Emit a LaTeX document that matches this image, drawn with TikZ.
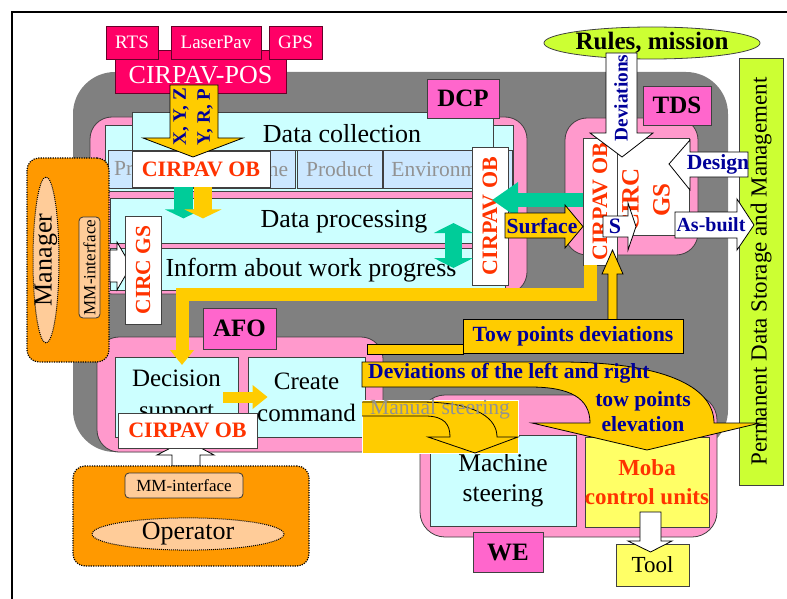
\documentclass[tikz,border=0pt]{standalone}
\usepackage{fontspec}
\setmainfont{Liberation Serif}
\usetikzlibrary{shapes.geometric,arrows.meta}

\definecolor{grayarea}{HTML}{808080}
\definecolor{pinkarea}{HTML}{FF99CC}
\definecolor{tagpink}{HTML}{FF66CC}
\definecolor{posred}{HTML}{FF0066}
\definecolor{palecyan}{HTML}{CCFFFF}
\definecolor{paleblue}{HTML}{CCE8FF}
\definecolor{arrowyellow}{HTML}{FFCC00}
\definecolor{mgrorange}{HTML}{FF9900}
\definecolor{peach}{HTML}{FFCC99}
\definecolor{mobayellow}{HTML}{FFFF66}
\definecolor{limegreen}{HTML}{CCFF33}
\definecolor{obred}{HTML}{FF3300}
\definecolor{textblue}{HTML}{000099}
\definecolor{seagreen}{HTML}{00CC99}
\definecolor{dimtext}{HTML}{929292}

\newcommand{\fsz}[2]{\fontsize{#1}{#2}\selectfont}

\tikzset{
  zone/.style={draw=black!75, line width=0.8, fill=pinkarea, rounded corners=22, inner sep=0},
  tagbox/.style={draw=black!75, line width=0.8, fill=tagpink, inner sep=0, font=\fsz{25}{30}\bfseries},
  cyanbox/.style={draw=black!75, line width=0.8, fill=palecyan, inner sep=0, font=\fsz{26}{30}},
  subbox/.style={draw=black!75, line width=0.8, fill=paleblue, inner sep=0, text=dimtext, font=\fsz{21.5}{25}},
  obbox/.style={draw=black!75, line width=0.8, fill=white, inner sep=0, text=obred, font=\fsz{22}{26}\bfseries},
  posbox/.style={draw=black!60!posred, line width=0.8, fill=posred, inner sep=0, text=white, font=\fsz{19}{22}},
  yblock/.style={draw=black, line width=0.8, fill=arrowyellow},
  wblock/.style={draw=black, line width=0.8, fill=white},
  bluetxt/.style={text=textblue, inner sep=0, font=\fsz{21.6}{25}\bfseries},
  orangebox/.style={draw=black, dash pattern=on 1.2pt off 1.2pt, line width=1.2, fill=mgrorange, rounded corners=12, inner sep=0},
  peachell/.style={ellipse, draw=black, dash pattern=on 1pt off 1pt, line width=1, fill=peach, inner sep=0},
  mmbox/.style={draw=black!80, line width=0.8, fill=peach, rounded corners=4, inner sep=0, font=\fsz{17}{20}},
}

\begin{document}
\begin{tikzpicture}[x=1pt,y=-1pt]
\useasboundingbox (0,0) rectangle (787,599);
\clip (0,0) rectangle (787,599);
\draw[line width=2] (12,12) rectangle (800,620);

% working area and the four subsystems
\node[fill=grayarea, rounded corners=42, minimum width=655, minimum height=380, inner sep=0] (work) at (400.5,262) {};
\node[zone, minimum width=437, minimum height=177] (dcp) at (308.5,205.5) {};
\node[zone, minimum width=133, minimum height=137] (tds) at (631.5,186.5) {};
\node[zone, minimum width=286, minimum height=115] (afo) at (240,394.5) {};
\node[zone, minimum width=297, minimum height=142, rounded corners=25] (we) at (568.5,466) {};

% DCP
\node[cyanbox, minimum width=408, minimum height=66] (dcpanel) at (309,158) {};
\node[cyanbox, minimum width=361, minimum height=38] (collect) at (312.5,131) {};
\node[inner sep=0, font=\fsz{26}{30}] (collecttxt) at (342,134) {Data collection};
\node[subbox, minimum width=82, minimum height=38] (process) at (149,169) {Process\hspace*{4pt}};
\node[subbox, minimum width=105, minimum height=38] (machine) at (242.5,169) {\hspace*{16pt}Machine};
\node[subbox, minimum width=85, minimum height=38] (product) at (339.5,169) {Product};
\node[subbox, minimum width=129, minimum height=38] (environment) at (447.5,169) {Environment};
\node[cyanbox, minimum width=395, minimum height=45] (processing) at (307.5,220.5) {};
\node[inner sep=0, font=\fsz{26}{30}] (processingtxt) at (344,222) {Data processing};
\node[cyanbox, minimum width=395, minimum height=42] (inform) at (307.5,269) {};
\node[inner sep=0, font=\fsz{26}{30}] (informtxt) at (311,270) {Inform about work progress};
\draw[wblock] (110,250) -- (117,250) -- (117,242) -- (131,266) -- (117,290) -- (117,282) -- (110,282) -- cycle;
\node[obbox, rotate=90, minimum width=108, minimum height=36, font=\fsz{21.5}{25}\bfseries] (circgs) at (143,270) {CIRC GS};
\node[obbox, minimum width=138, minimum height=36] (topob) at (201,169) {CIRPAV OB};
\draw[seagreen, line width=18.5, -{Triangle[width=37pt,length=9pt]}] ([xshift=-17.5]topob.south) -- ++(0,31);
\draw[arrowyellow, line width=18, -{Triangle[width=37pt,length=9pt]}] ([xshift=2]topob.south) -- ++(0,31);
\node[obbox, rotate=90, minimum width=138, minimum height=36] (dcpob) at (490,216) {CIRPAV OB};
\draw[seagreen, line width=17, {Triangle[width=39pt,length=10pt]}-{Triangle[width=39pt,length=10pt]}] (453.5,223) -- (453.5,268);
\node[tagbox, minimum width=72, minimum height=39] (dcptag) at (463,98.5) {DCP};

% positioning system
\node[posbox, minimum width=171, minimum height=43] (pos) at (200.5,71.5) {};
\node[text=white, inner sep=0, font=\fsz{26}{30}] (postxt) at (200.5,75) {CIRPAV-POS};
\node[posbox, minimum width=52, minimum height=33] (rts) at (132,42.5) {RTS};
\node[posbox, minimum width=90, minimum height=33] (laserpav) at (216,42.5) {LaserPav};
\node[posbox, minimum width=53, minimum height=33] (gps) at (295.5,42.5) {GPS};
\draw[yblock] (170,85) -- (218,85) -- (218,138) -- (243,138) -- (193,157) -- (143,138) -- (170,138) -- cycle;
\node[bluetxt, rotate=90, font=\fsz{19}{22}\bfseries] (xyz) at (181,117) {X, Y, Z};
\node[bluetxt, rotate=90, font=\fsz{19}{22}\bfseries] (yrp) at (205,117) {Y, R, P};

% TDS
\node[draw=black!75, line width=0.8, fill=limegreen, rotate=90, minimum width=427, minimum height=44, inner sep=0, font=\fsz{23}{27}] (storage) at (761,271.5) {Permanent Data Storage and Management};
\node[draw=black!75, line width=0.8, fill=white, minimum width=74, minimum height=97, inner sep=0] (tdsgs) at (652,186.5) {};
\node[rotate=90, align=center, text=obred, inner sep=0, font=\fsz{25}{31}\bfseries] (tdsgstxt) at (646,200) {CIRC\\GS};
\node[obbox, rotate=90, minimum width=127, minimum height=34] (tdsob) at (600,201.5) {CIRPAV OB};
\node[ellipse, draw=black!75, line width=0.8, fill=limegreen, minimum width=190, minimum height=32, inner sep=0, font=\fsz{25}{30}\bfseries] (rules) at (652,43) {Rules, mission};
\draw[wblock] (606,53) -- (637,53) -- (637,133) -- (653,133) -- (622,157) -- (590,133) -- (606,133) -- cycle;
\node[bluetxt, rotate=90, font=\fsz{19.3}{22}\bfseries] (devtxt) at (621,98) {Deviations};
\draw[wblock] (669,164) -- (690,140) -- (690,152) -- (748,152) -- (748,177) -- (690,177) -- (690,190) -- cycle;
\node[bluetxt] (design) at (718,164) {Design};
\draw[wblock] (675,212) -- (737,212) -- (737,199) -- (754,225) -- (737,250) -- (737,238) -- (675,238) -- cycle;
\node[bluetxt, font=\fsz{20}{24}\bfseries] (asbuilt) at (711,225) {As-built};
\draw[wblock] (603,216) -- (628,216) -- (628,203) -- (636,226.5) -- (628,250) -- (628,237) -- (603,237) -- cycle;
\node[bluetxt, font=\fsz{22}{25}\bfseries] (s) at (615,226) {S};
\draw[seagreen, line width=14, -{Triangle[width=34pt,length=26pt]}] (583,200) -- (492,200);
\draw[yblock] (505,213) -- (565,213) -- (565,205) -- (583,226.5) -- (565,248) -- (565,238) -- (505,238) -- cycle;
\node[bluetxt] (surface) at (542,226) {Surface};
\node[tagbox, minimum width=68, minimum height=39] (tdstag) at (677,105.5) {TDS};

% manager
\node[orangebox, minimum width=82, minimum height=204] (manager) at (68,260) {};
\node[peachell, minimum width=26, minimum height=166] (mgrell) at (46,260) {};
\node[rotate=90, inner sep=0, font=\fsz{26}{30}] (mgrtxt) at (46,260) {Manager};
\node[mmbox, rotate=90, minimum width=101, minimum height=21] (mgrmm) at (89.5,267.5) {MM-interface};

% AFO and operator
\node[cyanbox, minimum width=123, minimum height=80, align=center, font=\fsz{25}{32}] (decision) at (176.5,397) {Decision\\support};
\node[cyanbox, minimum width=117, minimum height=80, align=center, font=\fsz{25}{32}] (create) at (306.5,397) {Create\\command};
\draw[arrowyellow, line width=11, -{Triangle[width=23pt,length=15pt]}] ([xshift=-15]decision.east) -- ([xshift=20]create.west);
\node[tagbox, minimum width=73, minimum height=41] (afotag) at (239.5,328.5) {AFO};
\draw[wblock] (172,466) -- (172,455) -- (157,455) -- (186,440) -- (214,455) -- (200,455) -- (200,466) -- cycle;
\node[obbox, minimum width=139, minimum height=35] (afoob) at (187.5,430.5) {CIRPAV OB};
\node[orangebox, minimum width=236, minimum height=100] (operator) at (191,516) {};
\node[mmbox, minimum width=118, minimum height=25] (opmm) at (184,485.5) {MM-interface};
\node[peachell, minimum width=192, minimum height=32, font=\fsz{26}{30}] (opell) at (188,534) {Operator};

% WE
\node[cyanbox, minimum width=146, minimum height=91, align=center, font=\fsz{25.5}{30}] (steering) at (503,480.5) {Machine\\steering};
\node[draw=black!75, line width=0.8, fill=mobayellow, minimum width=122, minimum height=90, inner sep=0, align=center, text=obred, font=\fsz{23}{29}\bfseries] (moba) at (647,482) {Moba\\control units};
\node[tagbox, minimum width=70, minimum height=40] (wetag) at (508,552) {WE};
\node[draw=black!75, line width=0.8, fill=mobayellow, minimum width=73, minimum height=42, inner sep=0, font=\fsz{23}{27}] (tool) at (652.5,565) {Tool};
\draw[wblock] (640,512) -- (661,512) -- (661,541) -- (672,541) -- (650.5,552) -- (628,541) -- (640,541) -- cycle;

% commands back to the work
\draw[arrowyellow, line width=13, -{Triangle[width=23pt,length=15pt]}] (590,265) |- (182,294) -- (182,365);
\draw[yblock] (608,319) -- (608,274) -- (602,274) -- (612.5,250) -- (623,274) -- (617,274) -- (617,319);
\filldraw[yblock] (367,344) rectangle (463,354);
\node[draw=black, line width=0.8, fill=arrowyellow, minimum width=220, minimum height=34, inner sep=0, text=textblue, font=\fsz{21.7}{25}\bfseries] (towdev) at (573,336) {Tow points deviations};
\draw[yblock] (362,362) -- (560,362) .. controls (660,362) and (714,385) .. (714,423) -- (760,423) -- (647,450) -- (532,423) -- (590,423) .. controls (590,398) and (570,387) .. (530,387) -- (362,387) -- cycle;
\node[bluetxt, anchor=west] (devlr) at (368,373) {Deviations of the left and right};
\node[bluetxt, align=center] (towelev) at (643,412) {tow points\\elevation};
\node[fill=arrowyellow, draw=white, line width=0.8, minimum width=156, minimum height=53, inner sep=0] (manual) at (440,426.5) {};
\draw[yblock] (362,402) -- (420,402) .. controls (480,402) and (497,420) .. (497,437) -- (518,437) -- (475,453) -- (428,437) -- (450,437) .. controls (450,425) and (445,416) .. (425,416) -- (362,416);
\node[text=dimtext, inner sep=0, font=\fsz{21.6}{25}] (manualtxt) at (440,409) {Manual steering};
\end{tikzpicture}
\end{document}
